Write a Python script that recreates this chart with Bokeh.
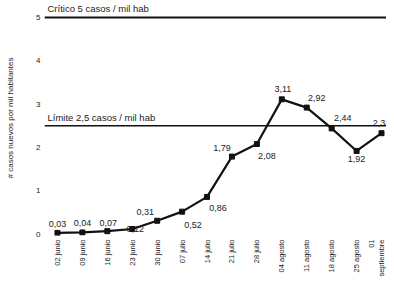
from bokeh.plotting import figure
from bokeh.models import Span, Label, FixedTicker, ColumnDataSource, Range1d
from bokeh.embed import file_html
from bokeh.resources import INLINE
from bokeh.core.properties import value
import math

semanas = ["02 junio", "09 junio", "16 junio", "23 junio", "30 junio", "07 julio",
           "14 julio", "21 julio", "28 julio", "04 agosto", "11 agosto", "18 agosto",
           "25 agosto", "01\nseptiembre"]
casos = [0.03, 0.04, 0.07, 0.12, 0.31, 0.52, 0.86, 1.79, 2.08, 3.11, 2.92, 2.44, 1.92, 2.33]
umbral_critico = 5
umbral_limite = 2.5
texto_critico = "Crítico 5 casos / mil hab"
texto_limite = "Límite 2,5 casos / mil hab"
y_ticks = [0, 1, 2, 3, 4, 5]
titulo_y = "# casos nuevos por mil habitantes"

# label placement (screen px offsets from each point)
desp_x = [0, 0, 1, 3, -12, 11, 11, -10, 10, 1, 10, 11, 0, 0]
desp_y = [-9, -9, -8, 0, -9, 13, 11, -9, 12, -10, -10, -10, 8, -10]

FONT = "Liberation Sans"
xs = list(range(len(semanas)))
etiquetas = [("%.2f" % v).replace(".", ",") for v in casos]

src = ColumnDataSource(dict(x=xs, y=casos, t=etiquetas, dx=desp_x, dy=desp_y))

p = figure(width=386, height=279, output_backend="svg", toolbar_location=None,
           x_range=Range1d(-0.52, len(semanas) - 1 + 0.2),
           y_range=Range1d(-0.03, 5.39),
           min_border_left=44, min_border_right=0, min_border_top=0, min_border_bottom=0)
p.outline_line_color = None
p.grid.visible = False
p.background_fill_color = "white"

p.line("x", "y", source=src, line_color="#111111", line_width=2.2)
p.scatter("x", "y", source=src, marker="square", size=5, color="#111111")
p.text("x", "y", text="t", source=src, x_offset="dx", y_offset="dy",
       text_align="center", text_baseline="middle", text_font=value(FONT),
       text_font_size="9px", text_color="#222222")

for u, txt, w in [(umbral_critico, texto_critico, 2),
                  (umbral_limite, texto_limite, 1.6)]:
    p.add_layout(Span(location=u, dimension="width", line_color="#111111", line_width=w))
    p.add_layout(Label(x=p.x_range.start, y=u, x_offset=3, y_offset=3, text=txt,
                       text_baseline="bottom", text_align="left", text_font=FONT,
                       text_font_size="9.5px", text_color="#222222"))

p.xaxis.ticker = FixedTicker(ticks=xs)
p.xaxis.major_label_overrides = {i: s for i, s in enumerate(semanas)}
p.xaxis.major_label_orientation = math.pi / 2
p.yaxis.ticker = FixedTicker(ticks=y_ticks)
p.yaxis.axis_label = titulo_y
p.yaxis.axis_label_standoff = 18
p.yaxis.axis_label_text_font_style = "normal"
for ax in (p.xaxis[0], p.yaxis[0]):
    ax.axis_line_color = None
    ax.major_tick_line_color = None
    ax.minor_tick_line_color = None
    ax.major_tick_out = 0
    ax.major_tick_in = 0
    ax.minor_tick_out = 0
    ax.minor_tick_in = 0
    ax.major_label_text_font = FONT
    ax.major_label_text_color = "#222222"
    ax.axis_label_text_font = FONT
    ax.axis_label_text_color = "#222222"
p.xaxis.major_label_text_font_size = "7.5px"
p.xaxis.major_label_standoff = 4
p.yaxis.major_label_text_font_size = "8px"
p.yaxis.major_label_standoff = 4
p.yaxis.axis_label_text_font_size = "8px"

open("out.html", "w").write(file_html(p, INLINE))
